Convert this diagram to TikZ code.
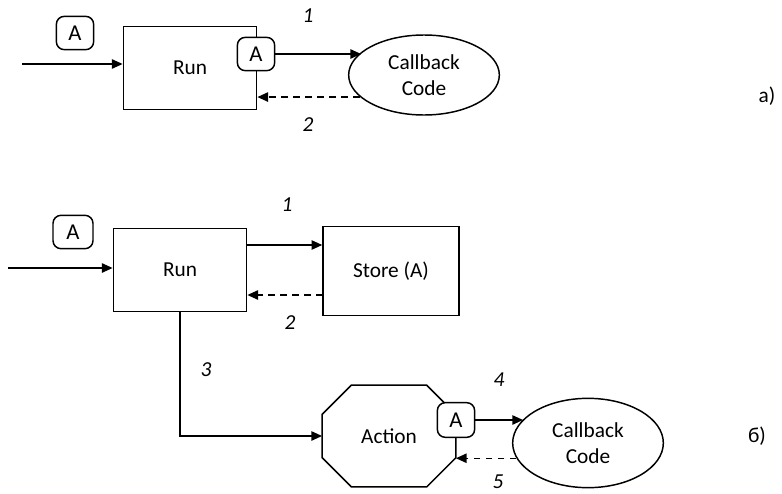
\documentclass[tikz,border=0pt]{standalone}
\usepackage{fontspec}
\setmainfont{Carlito}
\usepackage{tikz}
\usetikzlibrary{arrows.meta,shapes.geometric}

\tikzset{
  block/.style={shape=rectangle,draw=black,line width=1.1pt,minimum width=100pt,minimum height=62pt,inner sep=0pt},
  cloud/.style={shape=ellipse,draw=black,line width=1.1pt,minimum width=113pt,minimum height=60pt,inner sep=0pt,align=center},
  tag/.style={shape=rectangle,draw=black,fill=white,line width=1.1pt,rounded corners=6pt,minimum width=28pt,minimum height=25pt,inner sep=0pt,font=\fontsize{17}{20}\selectfont},
  num/.style={font=\fontsize{16}{20}\selectfont\itshape},
  arr/.style={line width=1.1pt,-{Triangle[length=8pt,width=7pt]}},
  dasharr/.style={arr,dash pattern=on 5pt off 4pt}
}

\begin{document}
\begin{tikzpicture}[x=0.75pt,y=-0.75pt,font=\fontsize{16}{20}\selectfont]
    \useasboundingbox (0,0) rectangle (782,493);
    % part a)
    \node[tag] (a1) at (75,33) {A};
    \node[block] (run1) at (190,68) {Run};
    \node[tag] (a1r) at (256,54) {A};
    \node[cloud] (cb1) at (424,75) {Callback\\Code};
    \node[num] (n1) at (308,16) {1};
    \node[num] (n2) at (308,125) {2};
    \node (la) at (767,96) {а)};
    \coordinate (in1) at (22,64);
    \draw[arr] (in1) -- (in1 -| run1.west);
    \draw[arr] (a1r.east) -- (cb1.160 |- a1r.east);
    \draw[dasharr] (cb1.199) -- (cb1.199 -| run1.east);
    % part b)
    \node[tag,minimum width=30pt] (a2) at (73,232) {A};
    \node[block] (run2) at (180,270) {Run};
    \node[block,minimum width=102pt,minimum height=67pt] (store) at (391,271) {Store (A)};
    \node[shape=rectangle,minimum width=100pt,minimum height=76pt,inner sep=0pt] (act) at (389,436) {Action};
    \draw[line width=1.1pt] ([xshift=22pt]act.north west) -- ([xshift=-22pt]act.north east)
      -- ([yshift=-22pt]act.north east) -- ([yshift=22pt]act.south east)
      -- ([xshift=-22pt]act.south east) -- ([xshift=22pt]act.south west)
      -- ([yshift=22pt]act.south west) -- ([yshift=-22pt]act.north west) -- cycle;
    \node[tag,minimum height=26pt] (a2r) at (456,420) {A};
    \node[cloud,minimum height=67pt] (cb2) at (588,443) {Callback\\Code};
    \node[num] (m1) at (287,205) {1};
    \node[num] (m2) at (290,323) {2};
    \node[num] (m3) at (206,370) {3};
    \node[num] (m4) at (499,380) {4};
    \node[num] (m5) at (498,482) {5};
    \node (lb) at (757,436) {б)};
    \coordinate (in2) at (8,268);
    \coordinate (s1) at (247,245);
    \coordinate (s2) at (323,295);
    \draw[arr] (in2) -- (in2 -| run2.west);
    \draw[arr] (s1) -- (s1 -| store.west);
    \draw[dasharr] (s2) -- (s2 -| run2.east);
    \draw[arr] (run2.south) |- (act.west);
    \draw[arr] (a2r.east) -- (cb2.160 |- a2r.east);
    \draw[dasharr] (cb2.192) -- (cb2.192 -| act.east);
\end{tikzpicture}
\end{document}
